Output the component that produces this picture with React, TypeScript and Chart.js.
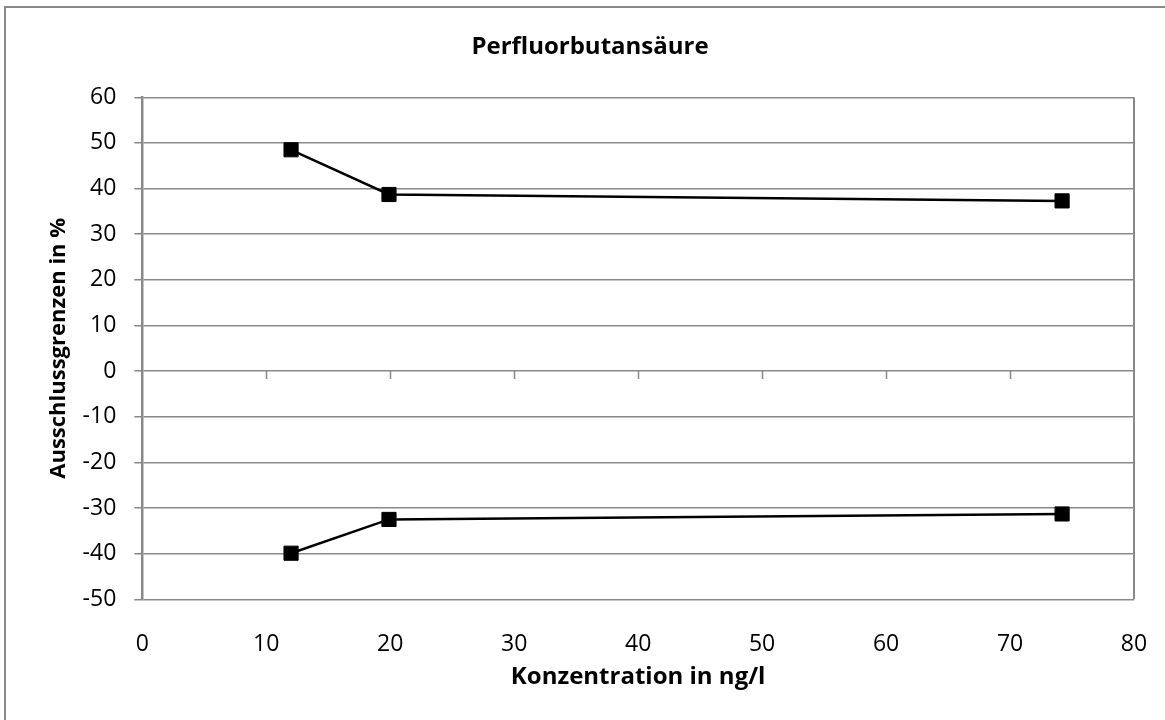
import React, { useEffect, useRef } from "react";
import { Chart, registerables } from "chart.js";

Chart.register(...registerables);

const chartTitle = "Perfluorbutansäure";
const xAxisTitle = "Konzentration in ng/l";
const yAxisTitle = "Ausschlussgrenzen in %";
const concentrations = [12, 19.9, 74.2];
const upperLimits = [48.5, 38.7, 37.3];
const lowerLimits = [-39.9, -32.5, -31.3];

const FONT = "'Open Sans', 'Noto Sans', sans-serif";
const GRAY = "#898989";

const framePlugin = {
  id: "frameAndTitle",
  afterDraw(chart: any) {
    const ctx = chart.ctx;
    const { chartArea } = chart;
    const xs = chart.scales.x;
    const ys = chart.scales.y;
    ctx.save();
    // outer frame
    ctx.strokeStyle = GRAY;
    ctx.lineWidth = 2;
    ctx.beginPath();
    ctx.moveTo(5, 720);
    ctx.lineTo(5, 7);
    ctx.lineTo(1165, 7);
    ctx.stroke();
    // plot area right border
    ctx.lineWidth = 2;
    ctx.beginPath();
    ctx.moveTo(chartArea.right, chartArea.top);
    ctx.lineTo(chartArea.right, chartArea.bottom);
    ctx.stroke();
    // tick marks on the zero line
    const y0 = ys.getPixelForValue(0);
    ctx.lineWidth = 1.5;
    ctx.beginPath();
    xs.ticks.forEach((t: any) => {
      if (t.value <= xs.min || t.value >= xs.max) return;
      const px = Math.round(xs.getPixelForValue(t.value)) + 0.5;
      ctx.moveTo(px, y0);
      ctx.lineTo(px, y0 + 8);
    });
    ctx.stroke();
    // title
    ctx.fillStyle = "#000";
    ctx.font = `bold 24px ${FONT}`;
    ctx.textAlign = "center";
    ctx.textBaseline = "middle";
    ctx.fillText(chartTitle, 590, 47.5);
    ctx.restore();
  },
};

export default function App() {
  const canvasRef = useRef<HTMLCanvasElement | null>(null);

  useEffect(() => {
    if (!canvasRef.current) return;
    const toPoints = (ys: number[]) => concentrations.map((x, i) => ({ x, y: ys[i] }));
    const dsStyle = {
      showLine: true,
      borderColor: "#000",
      backgroundColor: "#000",
      borderWidth: 2.5,
      pointStyle: "rect",
      pointRadius: 10,
      pointHoverRadius: 10,
      pointBorderWidth: 1,
      pointBackgroundColor: "#000",
      pointBorderColor: "#000",
    };
    const chart = new Chart(canvasRef.current, {
      type: "scatter",
      data: {
        datasets: [
          { label: "Obere Grenze", data: toPoints(upperLimits), ...dsStyle },
          { label: "Untere Grenze", data: toPoints(lowerLimits), ...dsStyle },
        ],
      },
      options: {
        animation: false,
        responsive: false,
        maintainAspectRatio: false,
        layout: { padding: { top: 97.3, right: 31, bottom: 0, left: 0 } },
        plugins: {
          legend: { display: false },
          title: { display: false },
          tooltip: { enabled: false },
        },
        scales: {
          x: {
            type: "linear",
            min: 0,
            max: 80,
            ticks: {
              stepSize: 10,
              color: "#000",
              font: { family: FONT, size: 23 },
              padding: 23,
              maxRotation: 0,
            },
            grid: { display: false },
            border: { display: false },
            title: {
              display: true,
              text: xAxisTitle,
              color: "#000",
              font: { family: FONT, size: 24, weight: "bold" },
              padding: { top: 0, bottom: 28.6 },
            },
            afterFit(scale: any) {
              scale.height = 120.7;
              scale.paddingLeft = 0;
              scale.paddingRight = 0;
            },
          },
          y: {
            type: "linear",
            min: -50,
            max: 60,
            ticks: {
              stepSize: 10,
              color: "#000",
              font: { family: FONT, size: 23 },
              padding: 18,
            },
            grid: {
              color: GRAY,
              lineWidth: 1.5,
              tickLength: 8,
              drawTicks: true,
            },
            border: { display: true, color: GRAY, width: 2.5 },
            title: {
              display: true,
              text: yAxisTitle,
              color: "#000",
              font: { family: FONT, size: 22, weight: "bold" },
              padding: { top: 45.8, bottom: 0 },
            },
            afterFit(scale: any) {
              scale.width = 142.3;
            },
          },
        },
      } as any,
      plugins: [framePlugin],
    });
    return () => chart.destroy();
  }, []);

  return (
    <div style={{ position: "fixed", left: 0, top: 0, width: 1165, height: 720, background: "#fff" }}>
      <canvas ref={canvasRef} width={1165} height={720} style={{ width: 1165, height: 720, display: "block" }} />
    </div>
  );
}
